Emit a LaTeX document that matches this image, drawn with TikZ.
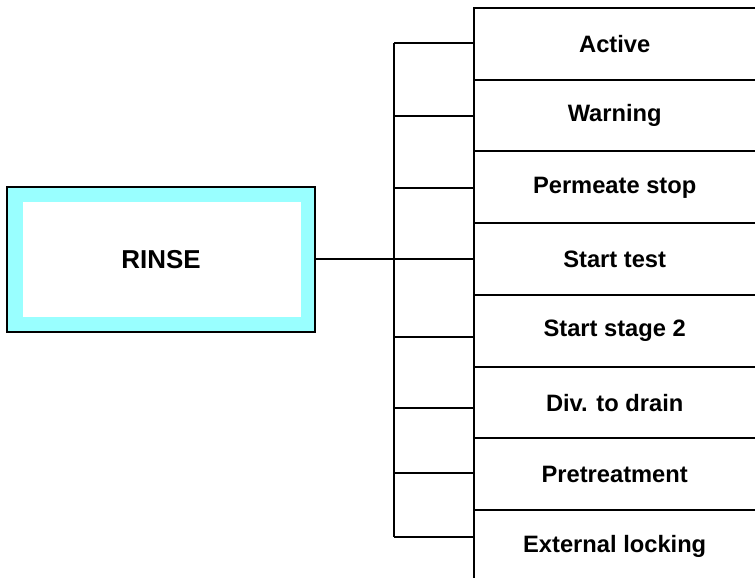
\documentclass[tikz,border=0pt]{standalone}
\usepackage{fontspec}
\setmainfont{Liberation Sans}
\usepackage{xcolor}
\usetikzlibrary{positioning,calc}
\definecolor{rinsecyan}{RGB}{153,255,255}

\begin{document}
\begin{tikzpicture}[x=1pt, y=1pt,
    wire/.style={line width=2pt},
    row/.style={minimum width=281pt, minimum height=71.75pt, inner sep=0pt,
      anchor=north west, font=\fontsize{23.7}{28}\selectfont\bfseries},
    rinsebox/.style={draw, line width=2pt, fill=rinsecyan, minimum width=308pt,
      minimum height=145pt, font=\fontsize{25.9}{30}\selectfont\bfseries,
      path picture={\fill[white] ([shift={(16pt,15pt)}]path picture bounding box.south west)
        rectangle ([shift={(-14pt,-15pt)}]path picture bounding box.north east);}}]
  \useasboundingbox (0,0) rectangle (755,578);
  \clip (0,0) rectangle (755,578);

  \node[rinsebox] (rinse) at (161,318.5) {RINSE};

  \foreach \lbl [count=\i] in {Active, Warning, Permeate stop, Start test,
      Start stage 2, Div. to drain, Pretreatment, External locking}
    \node[row] (r\i) at (474,{570-71.75*(\i-1)}) {\lbl};
  \foreach \i in {1,...,8}
    \draw[wire] (r\i.south west) |- (r\i.north east);

  \coordinate (bustop) at (394,535);
  \coordinate (busbot) at (394,41);
  \draw[wire] (bustop) -- (busbot);
  \draw[wire] (rinse.east) -- (rinse.east -| bustop);
  \foreach \y [count=\i] in {535,462,390,319,241,170,105,41}
    \draw[wire] (bustop |- 0,\y) -- (r\i.west |- 0,\y);
\end{tikzpicture}
\end{document}
